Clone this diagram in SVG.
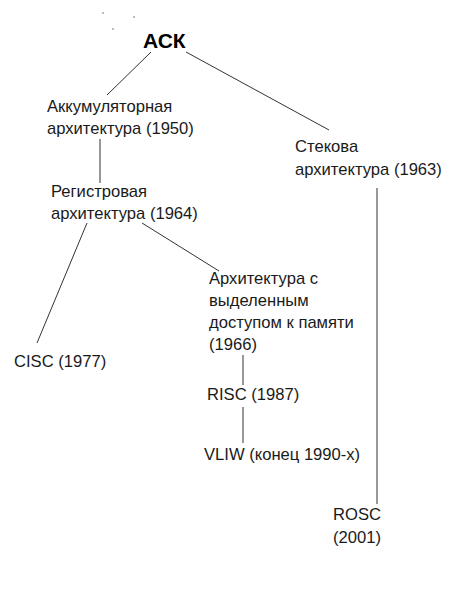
<svg xmlns="http://www.w3.org/2000/svg" width="459" height="593" viewBox="0 0 459 593">
<style>
.t{font-family:"Liberation Sans",Arial,sans-serif;font-size:16.6px;fill:#1a1a1a}
.b{font-family:"Liberation Sans",Arial,sans-serif;font-size:21px;font-weight:bold;fill:#000}
.c line{stroke:#333;stroke-width:1}
</style>
<rect width="459" height="593" fill="#fff"/>
<g id="dots" fill="#666"><circle cx="103" cy="13" r="0.8"/><circle cx="134" cy="17" r="0.8"/><circle cx="113" cy="29" r="0.8"/></g>
<g id="connectors" class="c">
<line x1="151" y1="52" x2="107" y2="95"/>
<line x1="186" y1="52" x2="329" y2="130"/>
<line x1="100" y1="139" x2="100" y2="183"/>
<line x1="87" y1="223" x2="37" y2="343"/>
<line x1="142" y1="223" x2="219" y2="271"/>
<line x1="243" y1="355" x2="243" y2="385"/>
<line x1="243" y1="407" x2="243" y2="443"/>
<line x1="377" y1="188" x2="377" y2="504"/>
</g>
<g id="ask"><text class="b" x="143" y="48">АСК</text></g>
<g id="acc"><text class="t" x="47" y="112">Аккумуляторная</text><text class="t" x="47" y="134">архитектура (1950)</text></g>
<g id="reg"><text class="t" x="51" y="197">Регистровая</text><text class="t" x="51" y="219">архитектура (1964)</text></g>
<g id="stack"><text class="t" x="295" y="152">Стекова</text><text class="t" x="295" y="175">архитектура (1963)</text></g>
<g id="cisc"><text class="t" x="14" y="367">CISC (1977)</text></g>
<g id="mem"><text class="t" x="209" y="284">Архитектура с</text><text class="t" x="209" y="306">выделенным</text><text class="t" x="209" y="328">доступом к памяти</text><text class="t" x="209" y="350">(1966)</text></g>
<g id="risc"><text class="t" x="207" y="400">RISC (1987)</text></g>
<g id="vliw"><text class="t" x="204" y="460">VLIW (конец 1990-х)</text></g>
<g id="rosc"><text class="t" x="333" y="520">ROSC</text><text class="t" x="333" y="543">(2001)</text></g>
</svg>
